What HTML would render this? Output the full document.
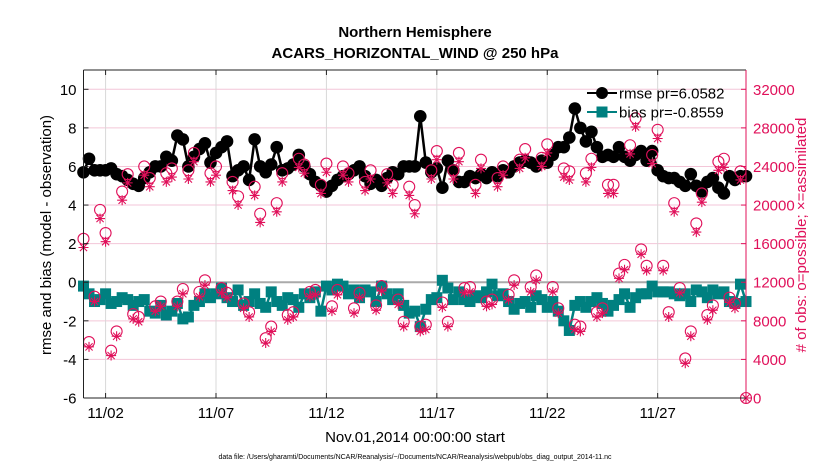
<!DOCTYPE html>
<html><head><meta charset="utf-8"><style>
body{margin:0;background:#fff;}
svg{display:block;font-family:"Liberation Sans",sans-serif;}
</style></head><body>
<svg id="chart" width="830" height="470" viewBox="0 0 830 470" xmlns="http://www.w3.org/2000/svg">
<rect width="830" height="470" fill="#fff"/>
<text x="415" y="37" text-anchor="middle" font-size="15" font-weight="bold">Northern Hemisphere</text>
<text x="415" y="58" text-anchor="middle" font-size="15" font-weight="bold">ACARS_HORIZONTAL_WIND @ 250 hPa</text>
<g id="grid"></g>
<g id="series"></g>
<g id="axes"></g>
<text transform="translate(51,235) rotate(-90)" text-anchor="middle" font-size="15">rmse and bias (model - observation)</text>
<text transform="translate(806,235) rotate(-90)" text-anchor="middle" font-size="15" fill="#e0105a"># of obs: o=possible; ×=assimilated</text>
<text x="415" y="442" text-anchor="middle" font-size="15">Nov.01,2014 00:00:00 start</text>
<text x="415" y="459" text-anchor="middle" font-size="7">data file: /Users/gharamti/Documents/NCAR/Reanalysis/~/Documents/NCAR/Reanalysis/webpub/obs_diag_output_2014-11.nc</text>
<g id="legend">
<line x1="587" y1="93" x2="617" y2="93" stroke="#000" stroke-width="2"/>
<circle cx="602" cy="93" r="6" fill="#000"/>
<text x="619" y="98.5" font-size="15">rmse pr=6.0582</text>
<line x1="587" y1="112" x2="617" y2="112" stroke="#008080" stroke-width="2"/>
<rect x="596.5" y="106.5" width="11" height="11" fill="#008080"/>
<text x="619" y="117.5" font-size="15">bias pr=-0.8559</text>
</g>
</svg>
<script>
const xTickLabels=["11/02","11/07","11/12","11/17","11/22","11/27"];
const xTickDays=[1,6,11,16,21,26];
const yTicks=[-6,-4,-2,0,2,4,6,8,10];
const y2Ticks=[0,4000,8000,12000,16000,20000,24000,28000,32000];
const rmse=[5.7,6.4,5.8,5.8, 5.8,5.9,5.6,5.5, 5.3,5.1,5.0,5.4, 5.7,6.0,6.0,6.5, 6.3,7.6,7.4,6.0, 6.5,6.9,7.2,6.2, 6.7,7.0,7.3,5.5, 5.8,6.0,5.3,7.4, 6.0,5.7,6.1,7.0, 5.8,5.9,6.1,6.6, 6.0,5.6,5.2,5.0, 4.7,5.0,5.3,5.5, 5.6,5.8,6.0,5.5, 5.1,5.3,5.0,5.4, 5.7,5.6,6.0,6.0, 6.0,8.6,6.2,5.7, 5.9,4.9,6.3,5.8, 5.2,5.2,5.5,5.4, 5.6,5.4,5.7,5.5, 5.8,5.7,6.0,6.2, 6.3,6.2,6.0,6.3, 6.2,6.6,7.0,7.0, 7.5,9.0,8.0,7.3, 7.8,7.0,6.5,6.6, 6.5,7.0,6.5,6.3, 6.6,6.8,6.3,6.8, 5.8,5.5,5.4,5.4, 5.2,5.0,5.6,5.0, 4.7,5.2,5.4,4.9, 4.6,5.5,5.3,5.5, 5.5];
const bias=[-0.2,-0.6,-1.0,-0.9, -0.6,-1.1,-1.0,-0.8, -0.9,-1.2,-1.0,-0.9, -1.5,-1.6,-1.2,-1.7, -1.5,-1.1,-1.9,-1.8, -1.2,-1.0,-0.6,-0.8, -0.6,-0.3,-0.8,-1.0, -0.4,-1.2,-1.0,-0.6, -1.1,-1.3,-0.5,-1.0, -1.2,-0.8,-0.9,-1.3, -0.6,-0.8,-0.5,-1.5, -0.2,-0.4,-0.1,-0.2, -0.6,-0.4,-0.8,-0.4, -0.5,-1.0,-0.2,-0.6, -0.9,-0.6,-1.2,-1.6, -1.5,-2.3,-1.4,-0.9, -0.8,0.1,-0.3,-0.9, -0.5,-0.9,-1.0,-0.7, -0.8,-0.5,-0.1,-0.7, -0.6,-1.0,-1.4,-1.1, -1.0,-1.3,-0.7,-0.9, -1.3,-1.0,-1.5,-2.0, -2.5,-1.2,-1.0,-1.3, -1.0,-0.8,-1.1,-1.5, -1.2,-0.9,-0.6,-1.3, -0.8,-0.6,-0.6,-0.2, -0.5,-0.5,-0.5,-0.6, -0.7,-0.6,-1.0,-0.4, -0.5,-0.8,-0.4,-0.6, -0.5,-1.0,-1.1,-0.1, -1.0];
const nPossible=[16500,5800,10500,19500,17100,4900,6900,21400,23200,8700,
 8400,24000,22800,9500,10000,23300,23800,10000,11300,23600,
 25400,11000,12200,23300,24000,11400,10900,22400,20900,9800,
 8900,21900,19100,6200,7400,20200,23300,8600,8900,24800,
 24200,11000,11200,22100,24300,9500,11200,24000,23300,9300,
 10900,22400,23600,9600,11600,23200,22100,10200,7900,21900,
 20000,7400,7600,23600,25600,9900,7900,23600,25400,11400,
 11500,22100,24700,10000,10200,22800,24000,10700,12200,24700,
 25800,11500,12700,24900,26300,11500,9300,23800,23500,7600,
 7400,23300,24800,8900,9300,22100,22100,12900,13800,26200,
 29000,15400,13700,25200,27800,13700,8900,20200,11400,4100,
 6900,18100,21200,8600,9600,24500,24800,10400,9800,23500,
 0];
const nAssim=[15600,5300,10000,18600,16200,4400,6400,20500,22300,8200,
 7900,23100,21900,9000,9500,22400,22900,9500,10800,22700,
 24500,10500,11700,22400,23100,10900,10400,21500,20000,9300,
 8400,21000,18200,5700,6900,19300,22400,8100,8400,23900,
 23300,10500,10700,21200,23400,9000,10700,23100,22400,8800,
 10400,21500,22700,9100,11100,22300,21200,9700,7400,21000,
 19100,6900,7100,22700,24700,9400,7400,22700,24500,10900,
 11000,21200,23800,9500,9700,21900,23100,10200,11700,23800,
 24900,11000,12200,24000,25400,11000,8800,22900,22600,7100,
 6900,22400,23900,8400,8800,21200,21200,12400,13300,25300,
 28100,14900,13200,24300,26900,13200,8400,19300,10900,3600,
 6400,17200,20300,8100,9100,23600,23900,9900,9300,22600,
 0];

const NS="http://www.w3.org/2000/svg";
const L=83.5,R=746,T=70,B=398;
const X0=0,X1=30,Y0=-6,Y1=11,C0=0,C1=34000;
function xs(d){return L+(d-X0)/(X1-X0)*(R-L);}
function ys(v){return B-(v-Y0)/(Y1-Y0)*(B-T);}
function ys2(c){return B-(c-C0)/(C1-C0)*(B-T);}
function mk(tag,attrs,parent){const e=document.createElementNS(NS,tag);for(const k in attrs)e.setAttribute(k,attrs[k]);parent.appendChild(e);return e;}
const grid=document.getElementById('grid'),axes=document.getElementById('axes'),ser=document.getElementById('series');
yTicks.forEach(v=>{
  const g=mk('line',{x1:L,x2:R,y1:ys(v),y2:ys(v),stroke:'#f3c6d8','stroke-width':1},grid);
  
  
  const t=mk('text',{x:L-7,y:ys(v)+5.5,'text-anchor':'end','font-size':15},axes);t.textContent=v;
  
  
  mk('line',{x1:L,x2:L+5,y1:ys(v),y2:ys(v),stroke:'#222'},axes);
});
y2Ticks.forEach(c=>{
  const t=mk('text',{x:R+7,y:ys2(c)+5.5,'font-size':15,fill:'#e0105a'},axes);t.textContent=c;
  
  
  mk('line',{x1:R-5,x2:R,y1:ys2(c),y2:ys2(c),stroke:'#e0105a'},axes);
});
xTickDays.forEach((d,i)=>{
  const g=mk('line',{x1:xs(d),x2:xs(d),y1:T,y2:B,stroke:'#d8d8d8','stroke-width':1},grid);
  
  
  mk('line',{x1:xs(d),x2:xs(d),y1:B,y2:B-5,stroke:'#222'},axes);
  mk('line',{x1:xs(d),x2:xs(d),y1:T,y2:T+5,stroke:'#222'},axes);
  const t=mk('text',{x:xs(d),y:B+20,'text-anchor':'middle','font-size':15},axes);t.textContent=xTickLabels[i];
  
  
});
const z=mk('line',{x1:L,x2:R,y1:ys(0),y2:ys(0),stroke:'#aaa','stroke-width':2},grid);


mk('line',{x1:L,x2:R,y1:T,y2:T,stroke:'#222'},axes);
mk('line',{x1:L,x2:R,y1:B,y2:B,stroke:'#222'},axes);
mk('line',{x1:L,x2:L,y1:T,y2:B,stroke:'#222'},axes);
mk('line',{x1:R,x2:R,y1:T,y2:B,stroke:'#e0105a'},axes);
const step=0.25;
let p=rmse.map((v,i)=>xs(i*step)+','+ys(v)).join(' ');
const rl=mk('polyline',{points:p,fill:'none',stroke:'#000','stroke-width':2.5},ser);


rmse.forEach((v,i)=>{const c=mk('circle',{cx:xs(i*step),cy:ys(v),r:6.3,fill:'#000'},ser);
  
  });
p=bias.map((v,i)=>xs(i*step)+','+ys(v)).join(' ');
const bl=mk('polyline',{points:p,fill:'none',stroke:'#008080','stroke-width':2.5},ser);


bias.forEach((v,i)=>{const c=mk('rect',{x:xs(i*step)-5.5,y:ys(v)-5.5,width:11,height:11,fill:'#008080'},ser);
  
  });
nPossible.forEach((n,i)=>{const c=mk('circle',{cx:xs(i*step),cy:ys2(n),r:5.5,fill:'none',stroke:'#e0105a','stroke-width':1.1},ser);
  
  });
nAssim.forEach((n,i)=>{const cx=xs(i*step),cy=ys2(n),s=5;
  const g=mk('path',{d:`M${cx-s},${cy}H${cx+s}M${cx},${cy-s}V${cy+s}M${cx-3.6},${cy-3.6}L${cx+3.6},${cy+3.6}M${cx-3.6},${cy+3.6}L${cx+3.6},${cy-3.6}`,stroke:'#e0105a','stroke-width':1.1,fill:'none'},ser);
  
  });
</script>
</body></html>
